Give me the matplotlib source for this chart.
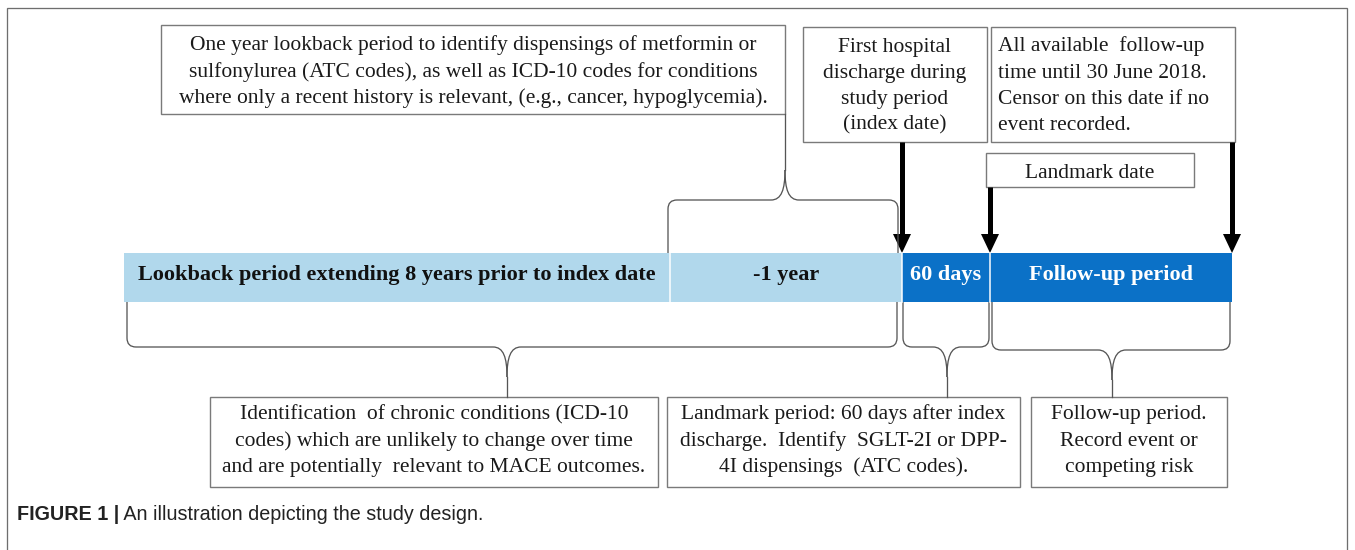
import matplotlib
matplotlib.use("Agg")
import matplotlib.pyplot as plt
from matplotlib.patches import Rectangle, Polygon, PathPatch
from matplotlib.path import Path

# ---------------- data ----------------
timeline_edges = [124, 670, 902, 990, 1232]
segment_labels = ["Lookback period extending 8 years prior to index date",
                  "-1 year", "60 days", "Follow-up period"]
segment_colors = ["#B1D8EC", "#B1D8EC", "#0B71C7", "#0B71C7"]
segment_text_colors = ["#111111", "#111111", "white", "white"]

top_left_text = ["One year lookback period to identify dispensings of metformin or",
                 "sulfonylurea (ATC codes), as well as ICD-10 codes for conditions",
                 "where only a recent history is relevant, (e.g., cancer, hypoglycemia)."]
index_text = ["First hospital", "discharge during", "study period", "(index date)"]
followup_end_text = ["All available  follow-up", "time until 30 June 2018.",
                     "Censor on this date if no", "event recorded."]
landmark_text = ["Landmark date"]
bottom_texts = [
    ["Identification  of chronic conditions (ICD-10",
     "codes) which are unlikely to change over time",
     "and are potentially  relevant to MACE outcomes."],
    ["Landmark period: 60 days after index",
     "discharge.  Identify  SGLT-2I or DPP-",
     "4I dispensings  (ATC codes)."],
    ["Follow-up period.", "Record event or", "competing risk"],
]
caption_bold = "FIGURE 1 |"
caption_text = " An illustration depicting the study design."

# ---------------- figure ----------------
W, H = 1355, 550
fig = plt.figure(figsize=(W / 100, H / 100), dpi=100)
ax = fig.add_axes([0, 0, 1, 1])
ax.set_xlim(0, W)
ax.set_ylim(H, 0)
ax.axis("off")

PX = 0.72  # points per pixel
SERIF = ["Liberation Serif", "DejaVu Serif"]
FS = 15.5
BOXC = "#7a7a7a"

# outer frame (open at bottom)
ax.plot([7, 7, 1347, 1347], [560, 8, 8, 560], color="#6e6e6e", lw=1.3 * PX,
        solid_joinstyle="miter")

def box(x0, y0, x1, y1):
    ax.add_patch(Rectangle((x0, y0), x1 - x0, y1 - y0, fill=False,
                           edgecolor=BOXC, lw=1.4 * PX))

def lines(texts, x, baselines, ha="center", **kw):
    for t, yb in zip(texts, baselines):
        ax.text(x, yb, t, ha=ha, va="baseline", fontsize=FS, family=SERIF,
                color="#1a1a1a", **kw)

# ---- timeline bar ----
bar_top, bar_bot = 253, 302
for i, lab in enumerate(segment_labels):
    x0, x1 = timeline_edges[i], timeline_edges[i + 1]
    ax.add_patch(Rectangle((x0, bar_top), x1 - x0, bar_bot - bar_top,
                           facecolor=segment_colors[i], edgecolor="none"))
    ax.text((x0 + x1) / 2, 280, lab, ha="center", va="baseline", fontsize=16.0,
            family=SERIF, fontweight="bold", color=segment_text_colors[i])
for xe in timeline_edges[1:-1]:
    ax.plot([xe, xe], [bar_top, bar_bot], color="white", lw=1.5 * PX)

# ---- top boxes ----
box(161, 25, 785, 114)
lines(top_left_text, 473, [50, 77, 103])

box(803, 27, 987, 142)
lines(index_text, 895, [52, 78, 104, 129])

box(991, 27, 1235, 142)
lines(followup_end_text, 998, [51, 78, 104, 130], ha="left")

box(986, 153, 1194, 187)
lines(landmark_text, 1090, [178])

# ---- arrows ----
arrow_x = [timeline_edges[2], timeline_edges[3], timeline_edges[4]]
arrow_start = [142, 187, 142]
for xa, ys in zip(arrow_x, arrow_start):
    head_len, head_w = 19, 18
    ax.plot([xa, xa], [ys, bar_top - head_len + 2], color="black", lw=5 * PX,
            solid_capstyle="butt")
    ax.add_patch(Polygon([(xa - head_w / 2, bar_top - head_len),
                          (xa + head_w / 2, bar_top - head_len),
                          (xa, bar_top)], closed=True, color="black", lw=0))

# ---- braces ----
def brace(x0, x1, y0, yh, xp, yend, r=9, w=14, d=30):
    s = 1 if yh > y0 else -1
    col = "#555555"
    for xe, sg in ((x0, 1), (x1, -1)):
        verts = [(xe, y0), (xe, yh - s * r), (xe, yh), (xe + sg * r, yh),
                 (xp - sg * w, yh), (xp - sg * w * 0.25, yh),
                 (xp, yh + s * d * 0.35), (xp, yh + s * d)]
        codes = [Path.MOVETO, Path.LINETO, Path.CURVE3, Path.CURVE3,
                 Path.LINETO, Path.CURVE4, Path.CURVE4, Path.CURVE4]
        ax.add_patch(PathPatch(Path(verts, codes), fill=False,
                               edgecolor=col, lw=1.3 * PX))
    ax.plot([xp, xp], [yh + s * d, yend], color=col, lw=1.3 * PX)

brace(668, 898, bar_top, 200, 785, 114)
brace(127, 897, bar_bot, 347, 507, 397)
brace(903, 989, bar_bot, 347, 947, 397)
brace(992, 1230, bar_bot, 350, 1112, 397)

# ---- bottom boxes ----
bottom_boxes = [(210, 658), (667, 1020), (1031, 1227)]
for (x0, x1), txt in zip(bottom_boxes, bottom_texts):
    box(x0, 397, x1, 487)
    lines(txt, (x0 + x1) / 2, [419, 446, 472])

# ---- caption ----
SANS = ["Liberation Sans", "DejaVu Sans"]
t1 = ax.text(17, 520, caption_bold, ha="left", va="baseline", fontsize=14.2,
             family=SANS, fontweight="bold", color="#222222")
fig.canvas.draw()
bb = t1.get_window_extent(renderer=fig.canvas.get_renderer())
x_end = ax.transData.inverted().transform((bb.x1, bb.y0))[0]
ax.text(x_end, 520, caption_text, ha="left", va="baseline", fontsize=14.2,
        family=SANS, color="#222222")

fig.savefig("out.png", dpi=100)
